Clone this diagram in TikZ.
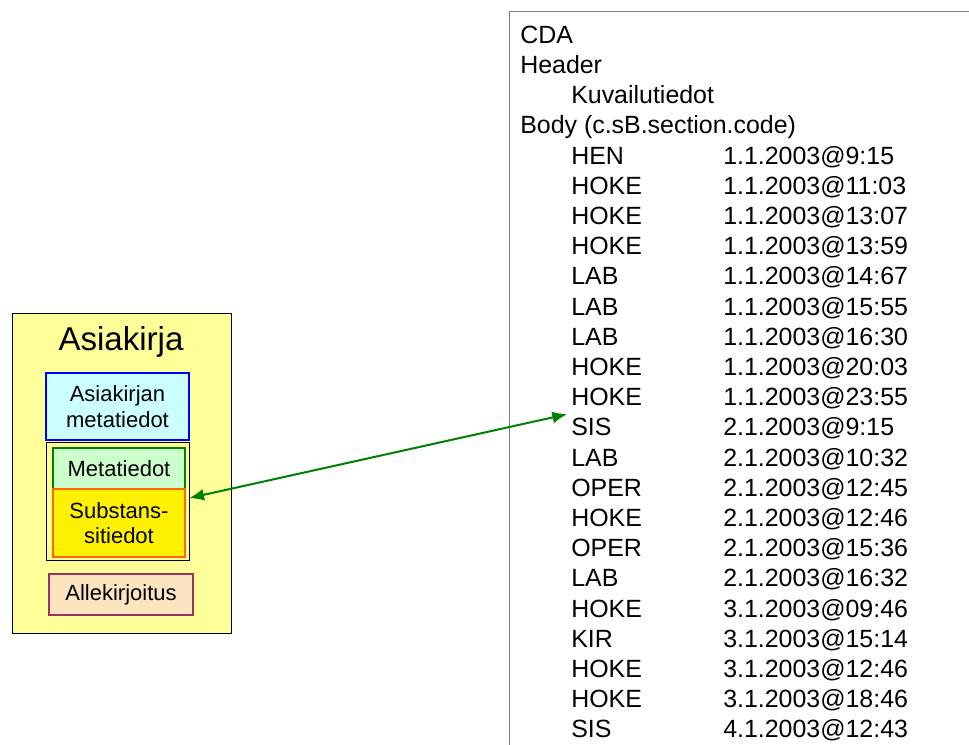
\documentclass[tikz,border=0pt]{standalone}
\usepackage{fontspec}
\setmainfont{Liberation Sans}
\usetikzlibrary{arrows.meta,calc}
\definecolor{docfill}{RGB}{255,255,153}
\definecolor{bluefill}{RGB}{204,255,255}
\definecolor{greenfill}{RGB}{204,255,204}
\definecolor{darkgreen}{RGB}{0,128,0}
\definecolor{orangeline}{RGB}{255,102,0}
\definecolor{peach}{RGB}{252,228,190}
\definecolor{plum}{RGB}{153,51,102}
\definecolor{listgray}{RGB}{128,128,128}
\tikzset{
  box/.style={draw, inner sep=0pt, align=center, font=\fontsize{16.5}{19}\selectfont},
  listtxt/.style={anchor=base west, inner sep=0pt, font=\fontsize{18.7}{22}\selectfont},
  arr/.style={draw=darkgreen, line width=1.5pt, {Latex[length=11pt,width=9pt]}-{Latex[length=11pt,width=9pt]}}
}
\begin{document}
\begin{tikzpicture}[x=0.75pt,y=-0.75pt]
\useasboundingbox (0,0) rectangle (969,744);
\clip (0,0) rectangle (969,744);
% left document
\node[box, fill=docfill, line width=0.6pt, minimum width=219*0.75pt, minimum height=320*0.75pt] (doc) at (121.5,473) {};
\node[inner sep=0pt, font=\fontsize{24.8}{28}\selectfont] (title) at (121,342) {Asiakirja};
\node[box, fill=bluefill, draw=blue, line width=2pt, minimum width=143*0.75pt, minimum height=67*0.75pt] (meta) at (117.5,406.5) {Asiakirjan\\metatiedot};
\node[box, line width=0.6pt, minimum width=143*0.75pt, minimum height=118*0.75pt] (inner) at (117.5,501) {};
\node[box, fill=greenfill, draw=darkgreen, line width=2pt, minimum width=132*0.75pt, minimum height=41*0.75pt] (green) at (119,468.5) {Metatiedot};
\node[box, fill=yellow, draw=orangeline, line width=2pt, minimum width=132*0.75pt, minimum height=68*0.75pt] (yellow) at (119,523) {Substans-\\sitiedot};
\node[box, fill=peach, draw=plum, line width=2pt, minimum width=144*0.75pt, minimum height=41*0.75pt] (sign) at (121,594.5) {Allekirjoitus};
% list box
\node[draw=listgray, line width=1.1pt, anchor=north west, inner sep=0pt, minimum width=480*0.75pt, minimum height=760*0.75pt] (listbox) at (509,11) {};
\node[listtxt] (r0) at (520,43.2) {CDA};
\node[listtxt] (r1) at (520,73.4) {Header};
\node[listtxt] (r2) at (571,103.6) {Kuvailutiedot};
\node[listtxt] (r3) at (520,133.8) {Body (c.sB.section.code)};
\foreach \n/\t [count=\i from 4] in {HEN/1.1.2003@9:15, HOKE/1.1.2003@11:03, HOKE/1.1.2003@13:07, HOKE/1.1.2003@13:59, LAB/1.1.2003@14:67, LAB/1.1.2003@15:55, LAB/1.1.2003@16:30, HOKE/1.1.2003@20:03, HOKE/1.1.2003@23:55, SIS/2.1.2003@9:15, LAB/2.1.2003@10:32, OPER/2.1.2003@12:45, HOKE/2.1.2003@12:46, OPER/2.1.2003@15:36, LAB/2.1.2003@16:32, HOKE/3.1.2003@09:46, KIR/3.1.2003@15:14, HOKE/3.1.2003@12:46, HOKE/3.1.2003@18:46, SIS/4.1.2003@12:43} {
  \node[listtxt] (k\i) at (571,{43.2+\i*30.2}) {\n};
  \node[listtxt] (t\i) at (723,{43.2+\i*30.2}) {\t};
}
% arrow
\coordinate (a1) at ($(yellow.east)+(3,-25)$);
\coordinate (a2) at ($(k13.west)+(-4,-13)$);
\draw[arr] (a1) -- (a2);
\end{tikzpicture}
\end{document}
